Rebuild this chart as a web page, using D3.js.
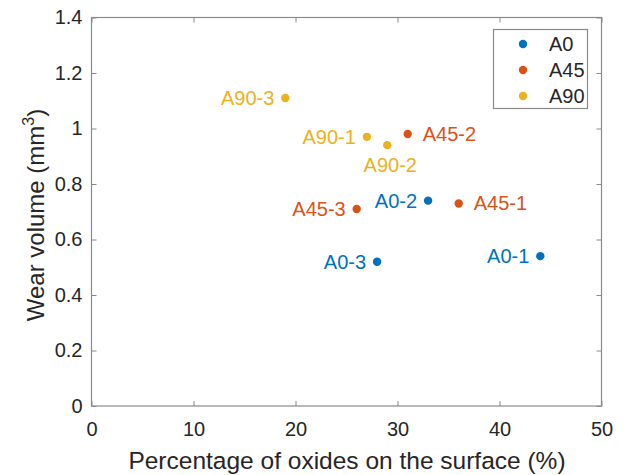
<!DOCTYPE html>
<html><head><meta charset="utf-8">
<script src="https://cdn.jsdelivr.net/npm/d3@7"></script>
<style>body{margin:0;background:#fff}svg{display:block}text{font-family:"Liberation Sans",Arial,sans-serif}</style>
</head><body>
<script>
const seriesNames = ["A0", "A45", "A90"];
const seriesColors = ["#0072BD", "#D95319", "#EDB120"];
const pointLabels = ["A0-1","A0-2","A0-3","A45-1","A45-2","A45-3","A90-1","A90-2","A90-3"];
const pointSeries = ["A0","A0","A0","A45","A45","A45","A90","A90","A90"];
const oxides = [44, 33, 28, 36, 31, 26, 27, 29, 19];
const wear = [0.54, 0.74, 0.52, 0.73, 0.98, 0.71, 0.97, 0.94, 1.11];
const labelSide = ["left","left","left","right","right","left","left","below","left"];
const xTicks = [0,10,20,30,40,50];
const yTicks = [0,0.2,0.4,0.6,0.8,1,1.2,1.4];

const W = 627, H = 475;
const svg = d3.select("body").append("svg").attr("width", W).attr("height", H);
const x = d3.scaleLinear().domain([0,50]).range([91.5, 601.5]);
const y = d3.scaleLinear().domain([0,1.4]).range([406, 17.5]);
const color = d3.scaleOrdinal().domain(seriesNames).range(seriesColors);
const axisCol = "#262626";
const fs = "20px";

// frame
svg.append("rect").attr("x", x(0)).attr("y", y(1.4)).attr("width", x(50)-x(0)).attr("height", y(0)-y(1.4))
  .attr("fill","none").attr("stroke","#8a8a8a").attr("stroke-width",1.2);

const tk = 5;
const gx = svg.append("g").attr("transform",`translate(0,${y(0)})`)
  .call(d3.axisBottom(x).tickValues(xTicks).tickSize(-tk).tickPadding(16).tickFormat(d3.format("d")));
const gxt = svg.append("g").attr("transform",`translate(0,${y(1.4)})`)
  .call(d3.axisTop(x).tickValues(xTicks).tickSize(-tk).tickFormat(""));
const gy = svg.append("g").attr("transform",`translate(${x(0)},0)`)
  .call(d3.axisLeft(y).tickValues(yTicks).tickSize(-tk).tickPadding(9).tickFormat(d => String(d)));
const gyr = svg.append("g").attr("transform",`translate(${x(50)},0)`)
  .call(d3.axisRight(y).tickValues(yTicks).tickSize(-tk).tickFormat(""));
[gx,gxt,gy,gyr].forEach(g => {
  g.select(".domain").remove();
  g.selectAll(".tick line").attr("stroke","#8a8a8a");
  g.selectAll("text").attr("fill", axisCol).style("font-size", fs);
});

// axis titles
svg.append("text").attr("x", 347).attr("y", 469).attr("text-anchor","middle")
  .attr("fill", axisCol).style("font-size","24.5px").text("Percentage of oxides on the surface (%)");
const yt = svg.append("text").attr("transform",`translate(44,215) rotate(-90)`)
  .attr("text-anchor","middle").attr("fill", axisCol).style("font-size","24px");
yt.append("tspan").text("Wear volume (mm");
yt.append("tspan").attr("dy","-10").style("font-size","16px").text("3");
yt.append("tspan").attr("dy","10").text(")");

// points
const data = oxides.map((v,i) => ({x:v, y:wear[i], s:pointSeries[i], label:pointLabels[i], side:labelSide[i]}));
svg.append("g").selectAll("circle").data(data).join("circle")
  .attr("cx", d => x(d.x)).attr("cy", d => y(d.y)).attr("r", 4.2).attr("fill", d => color(d.s));

svg.append("g").selectAll("text").data(data).join("text")
  .attr("x", d => d.side==="left" ? x(d.x)-11 : d.side==="right" ? x(d.x)+15 : x(d.x)+3)
  .attr("y", d => d.side==="below" ? y(d.y)+27 : y(d.y)+7)
  .attr("text-anchor", d => d.side==="left" ? "end" : d.side==="right" ? "start" : "middle")
  .attr("fill", d => color(d.s)).style("font-size", fs).text(d => d.label);

// legend
const lg = svg.append("g");
lg.append("rect").attr("x",493.5).attr("y",29.5).attr("width",94).attr("height",79)
  .attr("fill","#fff").attr("stroke","#8a8a8a").attr("stroke-width",1.2);
seriesNames.forEach((n,i) => {
  const cy = 44 + i*26;
  lg.append("circle").attr("cx",523).attr("cy",cy).attr("r",4.2).attr("fill",color(n));
  lg.append("text").attr("x",549).attr("y",cy+7).attr("fill",axisCol).style("font-size", fs).text(n);
});
</script>
</body></html>
